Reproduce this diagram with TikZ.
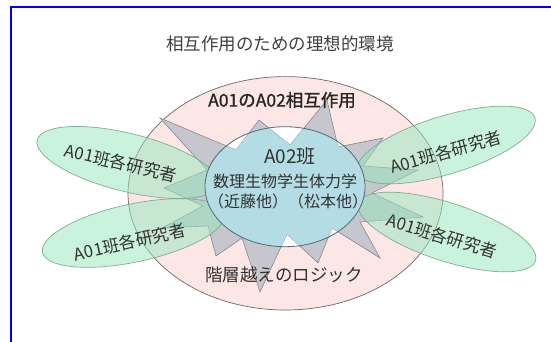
\documentclass[tikz,border=0pt]{standalone}
\usepackage{fontspec}
\setmainfont{Noto Sans CJK JP}
\newfontfamily\boldcjk[FakeBold=1.2]{Noto Sans CJK JP}
\definecolor{pinkfill}{RGB}{252,230,230}
\definecolor{bluefill}{RGB}{180,220,228}
\definecolor{greenfill}{RGB}{150,232,188}
\definecolor{greenline}{RGB}{120,165,140}
\definecolor{stargray}{RGB}{198,198,206}
\definecolor{starline}{RGB}{135,135,140}
\definecolor{ringline}{RGB}{110,105,105}
\definecolor{blueline}{RGB}{80,105,115}
\definecolor{txt}{RGB}{50,50,50}
\definecolor{frameblue}{RGB}{0,0,250}
\newcommand\mystarpath{(160,118) -- (236,150) -- (259,120) -- (290,145) -- (327,100) -- (338,147) -- (383,138) -- (363,166) -- (418,170) -- (372,193) -- (423,217) -- (360,222) -- (380,258) -- (332,228) -- (318,263) -- (287,234) -- (260,292) -- (242,238) -- (216,256) -- (208,226) -- (162,228) -- (203,206) -- (164,188) -- (207,170) -- cycle}
\begin{document}
\begin{tikzpicture}[x=1pt,y=-1pt,
  every node/.style={inner sep=0pt, text=txt},
  pinkell/.style={fill=pinkfill, draw=ringline, line width=0.7pt},
  greenell/.style={fill=greenfill, fill opacity=0.5, draw=greenline, draw opacity=0.9, line width=0.7pt},
  starshape/.style={fill=stargray, draw=starline, line width=0.6pt},
  bluering/.style={draw=blueline, line width=0.8pt},
  grouptext/.style={font=\fontsize{17}{17}\selectfont},
  bigtext/.style={font=\fontsize{17.5}{18}\selectfont},
]
\useasboundingbox (0,0) rectangle (551,342);
\clip (0,0) rectangle (551,342);
\fill[white] (0,0) rectangle (551,342);
\draw[frameblue, line width=2pt] (11,360) -- (11,7) -- (570,7);

\node[bigtext, text=black!75] (title) at (280,43.5) {相互作用のための理想的環境};

\path[pinkell] (285.5,193.3) ellipse [x radius=157.5, y radius=116.7];
\fill[white] (285,186.7) ellipse [x radius=80, y radius=60];
\path[starshape] \mystarpath;

\begin{scope}[shift={(127.5,162.5)}, rotate=-14]
  \path[greenell] (0,0) ellipse [x radius=93, y radius=29];
\end{scope}
\begin{scope}[shift={(133.5,233)}, rotate=12]
  \path[greenell] (0,0) ellipse [x radius=93, y radius=29];
\end{scope}
\begin{scope}[shift={(446,145)}, rotate=17]
  \path[greenell] (0,0) ellipse [x radius=93, y radius=29];
\end{scope}
\begin{scope}[shift={(447,232)}, rotate=-18]
  \path[greenell] (0,0) ellipse [x radius=93, y radius=29];
\end{scope}

\begin{scope}
  \clip \mystarpath;
  \fill[bluefill] (285,186.7) ellipse [x radius=80, y radius=60];
\end{scope}
\draw[bluering] (285,186.7) ellipse [x radius=80, y radius=60];

\node[font=\boldcjk\fontsize{17.5}{18}\selectfont, text=black!85] (inter) at (282,100) {A01のA02相互作用};
\node[font=\fontsize{19}{19}\selectfont] (a02) at (290,156.7) {A02班};
\node[font=\fontsize{16}{16}\selectfont] (field) at (285,181.7) {数理生物学生体力学};
\node[font=\fontsize{16}{16}\selectfont] (names) at (288,201.7) {（近藤他）（松本他）};
\node[bigtext] (logic) at (284,275) {階層越えのロジック};

\node[grouptext, rotate=-13] (g1) at (121,163) {A01班各研究者};
\node[grouptext, rotate=13] (g2) at (130,242) {A01班各研究者};
\node[grouptext, rotate=16] (g3) at (446,152) {A01班各研究者};
\node[grouptext, rotate=-17] (g4) at (442,236) {A01班各研究者};
\end{tikzpicture}
\end{document}
